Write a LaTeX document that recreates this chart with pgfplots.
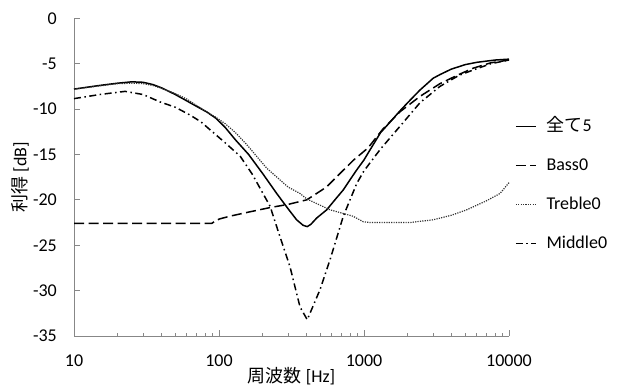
\documentclass[border=0pt]{standalone}
\usepackage{fontspec}
\setmainfont{Carlito}
\newfontfamily\jp{Noto Sans CJK JP}
\usepackage{pgfplots}
\pgfplotsset{compat=1.18}
\begin{document}
\fontsize{18bp}{21bp}\selectfont
\begin{tikzpicture}
\path[use as bounding box] (0,0) rectangle (617bp,387bp);
\begin{axis}[
  at={(74bp,51bp)}, anchor=south west,
  scale only axis, width=435bp, height=317.7bp,
  xmode=log, xmin=10, xmax=10000, ymin=-35, ymax=0,
  clip=false,
  axis x line*=bottom, axis y line*=left,
  axis line style={draw=black!47, line width=0.8bp},
  tick style={draw=black!47, line width=0.8bp},
  tick align=inside, major tick length=6bp,
  xtick={10,100,1000,10000}, xticklabels={10,100,1000,10000},
  minor xtick={}, 
  ytick={0,-5,-10,-15,-20,-25,-30,-35},
  /pgf/number format/assume math mode=true,
  ticklabel style={font=\fontsize{18bp}{21bp}\selectfont, inner sep=0pt},
  xticklabel style={anchor=north, yshift=-19bp},
  yticklabel style={anchor=east, xshift=-17bp},
  xlabel={{\jp 周波数} [Hz]},
  xlabel style={at={(axis description cs:0.5,0)}, anchor=north, yshift=-31bp, inner sep=0pt, font=\fontsize{18bp}{21bp}\selectfont},
  legend style={at={(axis description cs:1,0.475)}, anchor=west, xshift=6bp, draw=none, fill=none,
    font=\fontsize{18bp}{21bp}\selectfont, row sep=24bp, inner sep=0pt, outer sep=0pt,
    nodes={inner sep=0pt, outer sep=0pt, text height=12bp, text depth=3bp}},
  legend cell align=left,
  legend image code/.code={\draw[#1] (0bp,0bp) -- (20bp,0bp);},
  every axis plot/.append style={line width=1.5bp, black},
]
\addplot[solid] coordinates {
(10,-7.8) (15,-7.4) (20,-7.15) (25,-7.0) (30,-7.05) (35,-7.3) (40,-7.65) (50,-8.4) (60,-9.1) (70,-9.7) (82,-10.3) (95,-11.0) (110,-12.0) (130,-13.4) (160,-15.0) (200,-17.1) (250,-19.3) (300,-21.0) (343,-22.2) (380,-22.8) (406,-22.95) (430,-22.7) (472,-22.0) (553,-21.1) (630,-20.0) (720,-18.9) (800,-17.8) (891,-16.7) (1000,-15.6) (1100,-14.5) (1300,-12.6) (1500,-11.5) (1770,-10.2) (2000,-9.3) (2433,-7.9) (3000,-6.6) (3342,-6.2) (4000,-5.6) (5000,-5.1) (6000,-4.85) (8000,-4.6) (10000,-4.5)
};
\addlegendentry{\hspace{10bp}{\jp 全て}5}
\addplot[dash pattern=on 10bp off 4.5bp] coordinates {
(10,-22.6) (89,-22.6) (95,-22.3) (101,-22.1) (119,-21.8) (160,-21.35) (225,-20.85) (300,-20.5) (403,-20.0) (550,-18.6) (683,-17.1) (850,-15.6) (1044,-14.4) (1100,-14.0) (1350,-12.2) (1770,-10.3) (2433,-8.6) (3342,-7.2) (4500,-6.2) (5650,-5.5) (7500,-4.9) (10000,-4.6)
};
\addlegendentry{\hspace{10bp}Bass0}
\addplot[line width=1.2bp, black!80, dash pattern=on 1.2bp off 1.2bp] coordinates {
(10,-7.8) (15,-7.45) (20,-7.2) (25,-7.15) (30,-7.2) (35,-7.4) (40,-7.7) (50,-8.3) (60,-8.9) (70,-9.6) (82,-10.3) (95,-10.9) (110,-11.6) (130,-12.6) (155,-13.9) (213,-16.5) (300,-18.6) (362,-19.3) (403,-19.9) (583,-21.1) (839,-21.8) (985,-22.4) (1100,-22.5) (2075,-22.5) (2990,-22.2) (4000,-21.7) (5105,-21.1) (7000,-20.1) (8670,-19.3) (10000,-18.1)
};
\addlegendentry{\hspace{10bp}Treble0}
\addplot[dash pattern=on 7bp off 3.5bp on 1.5bp off 3.5bp] coordinates {
(10,-8.85) (15,-8.4) (22.5,-8.05) (30,-8.4) (39,-9.2) (50,-9.8) (63,-10.65) (75,-11.4) (87,-12.3) (110,-13.7) (140,-15.2) (170,-17.2) (201,-19.3) (225,-20.7) (260,-23.8) (309,-27.4) (362,-31.8) (406,-33.2) (440,-31.9) (497,-29.9) (583,-26.6) (720,-21.8) (891,-18.2) (1000,-16.8) (1300,-14.4) (1770,-11.9) (2433,-9.3) (3342,-7.5) (4500,-6.3) (5650,-5.7) (7500,-5.0) (10000,-4.6)
};
\addlegendentry{\hspace{10bp}Middle0}
\node[rotate=90, anchor=center, inner sep=0pt, font=\fontsize{18bp}{21bp}\selectfont] at ([xshift=-54bp]rel axis cs:0,0.5) {{\jp 利得} [dB]};
\end{axis}
\end{tikzpicture}
\end{document}
